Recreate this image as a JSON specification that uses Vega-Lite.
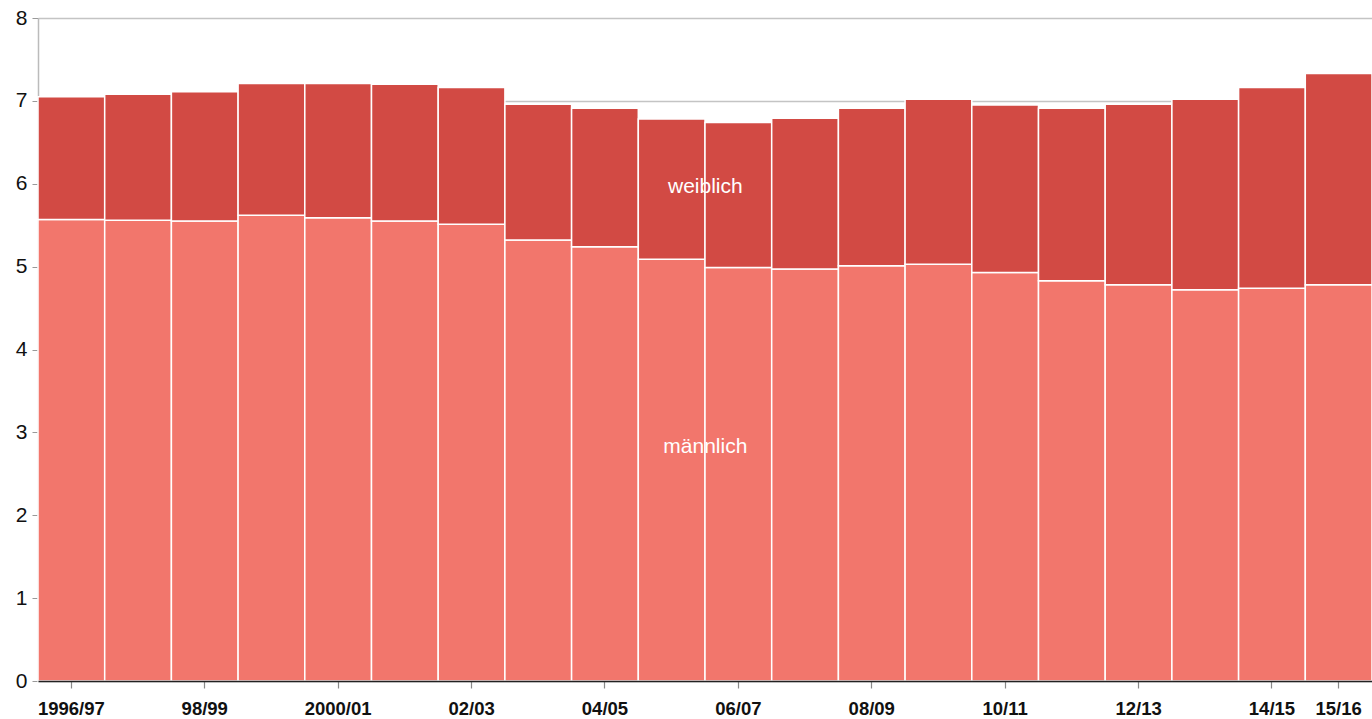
{
  "$schema": "https://vega.github.io/schema/vega-lite/v6.json",
  "width": 1334,
  "height": 663,
  "autosize": {"type": "none"},
  "padding": {"left": 38, "top": 18, "right": 0, "bottom": 38},
  "background": "white",
  "config": {"view": {"stroke": null}, "font": "Liberation Sans"},
  "data": {"values": [
    {"jahr": "1996/97", "geschlecht": "männlich", "wert": 5.57},
    {"jahr": "1996/97", "geschlecht": "weiblich", "wert": 1.48},
    {"jahr": "97/98", "geschlecht": "männlich", "wert": 5.56},
    {"jahr": "97/98", "geschlecht": "weiblich", "wert": 1.52},
    {"jahr": "98/99", "geschlecht": "männlich", "wert": 5.55},
    {"jahr": "98/99", "geschlecht": "weiblich", "wert": 1.56},
    {"jahr": "99/2000", "geschlecht": "männlich", "wert": 5.62},
    {"jahr": "99/2000", "geschlecht": "weiblich", "wert": 1.59},
    {"jahr": "2000/01", "geschlecht": "männlich", "wert": 5.59},
    {"jahr": "2000/01", "geschlecht": "weiblich", "wert": 1.62},
    {"jahr": "01/02", "geschlecht": "männlich", "wert": 5.55},
    {"jahr": "01/02", "geschlecht": "weiblich", "wert": 1.65},
    {"jahr": "02/03", "geschlecht": "männlich", "wert": 5.51},
    {"jahr": "02/03", "geschlecht": "weiblich", "wert": 1.65},
    {"jahr": "03/04", "geschlecht": "männlich", "wert": 5.32},
    {"jahr": "03/04", "geschlecht": "weiblich", "wert": 1.64},
    {"jahr": "04/05", "geschlecht": "männlich", "wert": 5.24},
    {"jahr": "04/05", "geschlecht": "weiblich", "wert": 1.67},
    {"jahr": "05/06", "geschlecht": "männlich", "wert": 5.09},
    {"jahr": "05/06", "geschlecht": "weiblich", "wert": 1.69},
    {"jahr": "06/07", "geschlecht": "männlich", "wert": 4.99},
    {"jahr": "06/07", "geschlecht": "weiblich", "wert": 1.75},
    {"jahr": "07/08", "geschlecht": "männlich", "wert": 4.97},
    {"jahr": "07/08", "geschlecht": "weiblich", "wert": 1.82},
    {"jahr": "08/09", "geschlecht": "männlich", "wert": 5.01},
    {"jahr": "08/09", "geschlecht": "weiblich", "wert": 1.90},
    {"jahr": "09/10", "geschlecht": "männlich", "wert": 5.03},
    {"jahr": "09/10", "geschlecht": "weiblich", "wert": 1.99},
    {"jahr": "10/11", "geschlecht": "männlich", "wert": 4.93},
    {"jahr": "10/11", "geschlecht": "weiblich", "wert": 2.02},
    {"jahr": "11/12", "geschlecht": "männlich", "wert": 4.83},
    {"jahr": "11/12", "geschlecht": "weiblich", "wert": 2.08},
    {"jahr": "12/13", "geschlecht": "männlich", "wert": 4.78},
    {"jahr": "12/13", "geschlecht": "weiblich", "wert": 2.18},
    {"jahr": "13/14", "geschlecht": "männlich", "wert": 4.72},
    {"jahr": "13/14", "geschlecht": "weiblich", "wert": 2.30},
    {"jahr": "14/15", "geschlecht": "männlich", "wert": 4.74},
    {"jahr": "14/15", "geschlecht": "weiblich", "wert": 2.42},
    {"jahr": "15/16", "geschlecht": "männlich", "wert": 4.78},
    {"jahr": "15/16", "geschlecht": "weiblich", "wert": 2.55}
  ]},
  "layer": [
    {
      "mark": {"type": "bar", "stroke": "white", "strokeWidth": 1.5},
      "encoding": {
        "x": {
          "field": "jahr", "type": "ordinal", "sort": null,
          "scale": {"paddingInner": 0, "paddingOuter": 0},
          "axis": {
            "title": null, "labelAngle": 0, "zindex": 1,
            "values": ["1996/97", "98/99", "2000/01", "02/03", "04/05", "06/07", "08/09", "10/11", "12/13", "14/15", "15/16"],
            "labelFont": "Liberation Sans", "labelFontSize": 18.5, "labelFontWeight": "bold", "labelColor": "#111",
            "labelPadding": 11,
            "domainColor": "#222", "domainWidth": 1.5,
            "tickColor": "#888", "tickSize": 7, "tickWidth": 1.2
          }
        },
        "y": {
          "field": "wert", "type": "quantitative", "stack": "zero",
          "scale": {"domain": [0, 8], "nice": false},
          "axis": {
            "title": null, "tickCount": 8, "grid": true, "gridColor": "#c4c4c4", "gridWidth": 1.5,
            "domainColor": "#bbbbbb", "domainWidth": 1.5, "tickColor": "#999", "tickSize": 6,
            "labelFont": "Liberation Sans", "labelFontSize": 21, "labelColor": "#111", "labelPadding": 5
          }
        },
        "color": {
          "field": "geschlecht", "type": "nominal",
          "scale": {"domain": ["männlich", "weiblich"], "range": ["#F2766C", "#D24A44"]},
          "legend": null
        },
        "order": {"field": "geschlecht", "sort": "ascending"}
      }
    },
    {
      "data": {"values": [
        {"jahr": "06/07", "wert": 2.82, "label": "männlich"},
        {"jahr": "06/07", "wert": 5.96, "label": "weiblich"}
      ]},
      "mark": {"type": "text", "color": "white", "fontSize": 21, "font": "Liberation Sans", "dx": -33, "baseline": "middle"},
      "encoding": {
        "x": {"field": "jahr", "type": "ordinal", "sort": null},
        "y": {"field": "wert", "type": "quantitative"},
        "text": {"field": "label"}
      }
    }
  ]
}
